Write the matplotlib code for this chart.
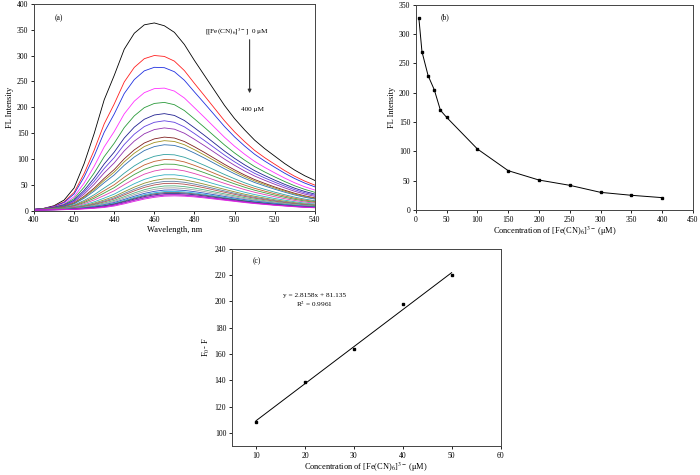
import matplotlib
matplotlib.use("Agg")
import matplotlib.pyplot as plt
import numpy as np

plt.rcParams["font.family"] = ["Liberation Serif", "DejaVu Serif"]
plt.rcParams["mathtext.fontset"] = "stix"

# (a) emission spectra
wavelength = list(range(400, 545, 5))
# normalised shape of the 0 uM spectrum
shape_first = [0.005, 0.011, 0.025, 0.055, 0.12, 0.25, 0.41, 0.59, 0.72, 0.86,
               0.945, 0.99, 1.0, 0.985, 0.95, 0.885, 0.80, 0.72, 0.64, 0.56,
               0.49, 0.43, 0.375, 0.33, 0.29, 0.25, 0.215, 0.185, 0.16]
# normalised shape of the 400 uM spectrum
shape_last = [0.02, 0.03, 0.04, 0.05, 0.07, 0.10, 0.14, 0.20, 0.30, 0.45,
              0.62, 0.78, 0.90, 0.98, 1.0, 0.98, 0.93, 0.86, 0.78, 0.70,
              0.62, 0.54, 0.47, 0.41, 0.35, 0.30, 0.25, 0.21, 0.18]
peak_heights = [362, 302, 280, 240, 212, 190, 176, 162, 144, 137, 129, 110, 100,
                91, 81, 70, 62, 57, 53, 48, 44, 40, 37, 35, 33, 31, 30, 28]
spectrum_colors = ["#000000", "#ff2020", "#2030e0", "#ff30ff", "#2a9a3a", "#202090",
                   "#6040e0", "#9030b0", "#802020", "#a09020", "#3070b0", "#30a0a0",
                   "#c06030", "#40a040", "#e040b0", "#30b0c0", "#909030", "#6080a0",
                   "#b05050", "#50b080", "#a0a0a0", "#3050c0", "#20b0e0", "#606060",
                   "#203080", "#c030c0", "#a020d0", "#e020e0"]

# (b) quenching curve
conc_b = [5, 10, 20, 30, 40, 50, 100, 150, 200, 250, 300, 350, 400]
fl_b = [327, 270, 229, 205, 170, 158, 104, 67, 51, 42, 30, 25, 21]

# (c) linear range
conc_c = [10, 20, 30, 40, 50]
dF_c = [108, 139, 164, 198, 220]
slope, intercept = 2.8158, 81.135

fig = plt.figure(figsize=(7, 4.75), dpi=100)
ax_a = fig.add_axes([0.0486, 0.556, 0.401, 0.436])
ax_b = fig.add_axes([0.594, 0.558, 0.396, 0.432])
ax_c = fig.add_axes([0.331, 0.061, 0.384, 0.415])

fs = 5.5
for ax in (ax_a, ax_b, ax_c):
    ax.tick_params(direction="out", length=2.5, width=0.6, labelsize=fs, pad=1.5,
                   top=False, right=False)
    for s in ax.spines.values():
        s.set_linewidth(0.7)
        s.set_color("#444444")

# panel a
lo, hi = min(peak_heights), max(peak_heights)
sf, sl = np.array(shape_first), np.array(shape_last)
for p, c in zip(peak_heights, spectrum_colors):
    w = ((p - lo) / (hi - lo)) ** 0.5
    ax_a.plot(wavelength, p * (w * sf + (1 - w) * sl) + 1.0, color=c, lw=0.6)
ax_a.set_xlim(400, 540)
ax_a.set_ylim(0, 400)
ax_a.set_xticks(range(400, 541, 20))
ax_a.set_yticks(range(0, 401, 50))
ax_a.set_xlabel("Wavelength, nm", fontsize=fs + 0.5, labelpad=1)
ax_a.set_ylabel("FL Intensity", fontsize=fs + 0.5, labelpad=2)
ax_a.text(0.075, 0.92, "(a)", transform=ax_a.transAxes, fontsize=fs)
ax_a.text(0.61, 0.865, r"[[Fe(CN)$_6$]$^{3-}$]  0 μM", transform=ax_a.transAxes,
          fontsize=fs - 0.3, va="center")
ax_a.annotate("", xy=(0.768, 0.555), xytext=(0.768, 0.84), xycoords="axes fraction",
              arrowprops=dict(arrowstyle="-|>", color="#333333", lw=0.8,
                              mutation_scale=5))
ax_a.text(0.78, 0.49, "400 μM", transform=ax_a.transAxes, fontsize=fs - 0.3,
          ha="center", va="center")

# panel b
ax_b.plot(conc_b, fl_b, color="black", lw=0.7, marker="s", ms=1.6)
ax_b.set_xlim(0, 450)
ax_b.set_ylim(0, 350)
ax_b.set_xticks(range(0, 451, 50))
ax_b.set_yticks(range(0, 351, 50))
ax_b.set_xlabel(r"Concentration of [Fe(CN)$_6$]$^{3-}$ (μM)", fontsize=fs + 0.5,
                labelpad=1)
ax_b.set_ylabel("FL Intensity", fontsize=fs + 0.5, labelpad=2)
ax_b.text(0.09, 0.93, "(b)", transform=ax_b.transAxes, fontsize=fs)

# panel c
ax_c.plot(conc_c, dF_c, "s", color="black", ms=1.6)
fit_x = np.array([conc_c[0], conc_c[-1]])
ax_c.plot(fit_x, slope * fit_x + intercept, color="black", lw=0.7)
ax_c.set_xlim(5, 60)
ax_c.set_ylim(90, 240)
ax_c.set_xticks(range(10, 61, 10))
ax_c.set_yticks(range(100, 241, 20))
ax_c.set_xlabel(r"Concentration of [Fe(CN)$_6$]$^{3-}$ (μM)", fontsize=fs + 0.5,
                labelpad=1)
ax_c.set_ylabel(r"F$_0$- F", fontsize=fs + 0.5, labelpad=2)
ax_c.text(0.078, 0.93, "(c)", transform=ax_c.transAxes, fontsize=fs)
ax_c.text(22, 200.5, f"y = {slope}x + {intercept}\nR$^2$ = 0.9961", fontsize=fs - 0.3,
          ha="center", va="center", linespacing=1.2)

fig.savefig("out.png", dpi=100)
